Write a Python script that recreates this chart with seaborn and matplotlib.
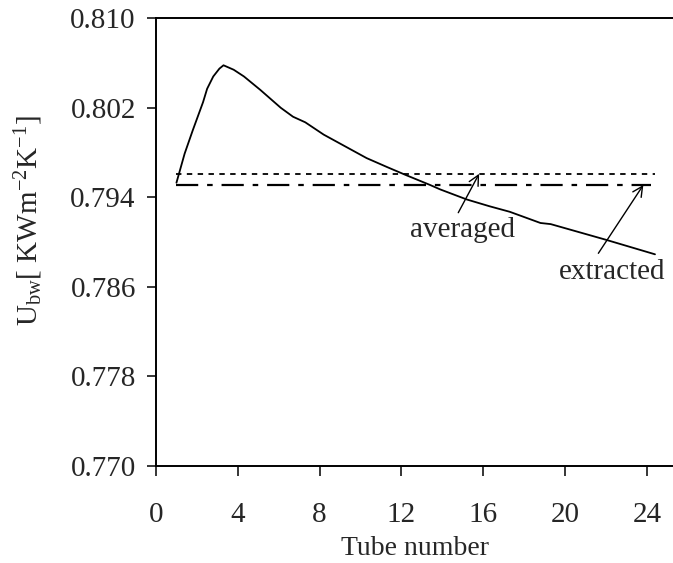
import seaborn as sns
import pandas as pd
import matplotlib.pyplot as plt

# curve
tube = [1.0, 1.4, 1.8, 2.3, 2.5, 2.8, 3.1, 3.3, 3.8, 4.3, 5.1, 5.6, 6.1, 6.7, 7.3,
        8.2, 9.3, 10.3, 11.3, 12.2, 13.4, 13.9, 15.2, 16.3, 17.3, 18.8, 19.3, 22.0, 24.4]
u_bw = [0.7953, 0.7979, 0.8000, 0.8025, 0.8037, 0.8048, 0.8055, 0.8058, 0.8054, 0.8048,
        0.8036, 0.8028, 0.8020, 0.8012, 0.8007, 0.7996, 0.7985, 0.7975, 0.7967, 0.7960,
        0.7951, 0.7947, 0.7938, 0.7932, 0.7927, 0.7917, 0.7916, 0.7902, 0.7889]

# horizontal reference values
averaged_x = [1.0, 24.4]
averaged_y = [0.7961, 0.7961]
extracted_x = [1.0, 24.2]
extracted_y = [0.7951, 0.7951]

xticks = [0, 4, 8, 12, 16, 20, 24]
yticks = [0.770, 0.778, 0.786, 0.794, 0.802, 0.810]

sns.set_style("ticks")
plt.rcParams['font.family'] = ['Liberation Serif', 'DejaVu Serif']
plt.rcParams['mathtext.fontset'] = 'custom'
plt.rcParams['mathtext.rm'] = 'Liberation Serif'
plt.rcParams['mathtext.it'] = 'Liberation Serif:italic'

fig = plt.figure(figsize=(6.73, 5.63), dpi=100)
ax = fig.add_axes([0.2318, 0.1728, 0.7682, 0.7947])

df = pd.DataFrame({"tube": tube, "u": u_bw})
sns.lineplot(data=df, x="tube", y="u", color="black", lw=1.3, ax=ax)
sns.lineplot(x=averaged_x, y=averaged_y, color="black", lw=1.3,
             linestyle=(0, (3, 3)), ax=ax)
sns.lineplot(x=extracted_x, y=extracted_y, color="black", lw=1.6,
             linestyle=(0, (10, 4, 2.5, 4)), ax=ax)

arrow = dict(arrowstyle="->", color="black", lw=1.0, mutation_scale=18,
             shrinkA=0, shrinkB=0)
ax.annotate("", xy=(15.8, 0.7961), xytext=(14.78, 0.79262), arrowprops=arrow)
ax.annotate("", xy=(23.83, 0.7951), xytext=(21.63, 0.78899), arrowprops=arrow)
ax.text(15.0, 0.7911, "averaged", ha="center", va="center", fontsize=21)
ax.text(22.3, 0.78734, "extracted", ha="center", va="center", fontsize=21)

ax.set_xlim(0, 25.28)
ax.set_ylim(0.770, 0.810)
ax.set_xticks(xticks)
ax.set_yticks(yticks)
ax.set_yticklabels([f"{v:.3f}" for v in yticks])
ax.tick_params(axis="y", direction="out", length=6.5, width=1.3, pad=8, labelsize=21)
ax.tick_params(axis="x", direction="out", length=7, width=1.3, pad=19, labelsize=21)

for side in ["top", "left", "bottom"]:
    ax.spines[side].set_visible(True)
    ax.spines[side].set_linewidth(1.4)
    ax.spines[side].set_color("black")
ax.spines["right"].set_visible(False)

ax.set_xlabel("Tube number", fontsize=20, labelpad=6)
ax.set_ylabel(r"U$_{\mathrm{bw}}$[ KWm$^{\mathrm{-2}}$K$^{\mathrm{-1}}$]", fontsize=21)
ax.yaxis.set_label_coords(-0.215, 0.547)

fig.savefig("out.png", dpi=100)
